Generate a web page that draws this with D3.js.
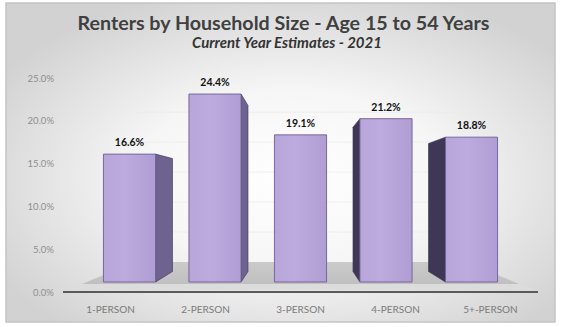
<!DOCTYPE html>
<html><head><meta charset="utf-8">
<script src="https://cdn.jsdelivr.net/npm/d3@7"></script>
<style>html,body{margin:0;padding:0;background:#fff;}svg{display:block;}</style>
</head><body>
<svg id="chart" width="562" height="327"></svg>
<script>
const categories = ["1-PERSON","2-PERSON","3-PERSON","4-PERSON","5+-PERSON"];
const values = [16.6, 24.4, 19.1, 21.2, 18.8];
const yTicks = [0, 5, 10, 15, 20, 25];
const titleText = "Renters by Household Size - Age 15 to 54 Years";
const subtitleText = "Current Year Estimates - 2021";

const svg = d3.select("#chart");
const defs = svg.append("defs");

// background gradient
const bg = defs.append("radialGradient").attr("id","bg").attr("cx","52%").attr("cy","55%").attr("r","62%");
bg.append("stop").attr("offset","0%").attr("stop-color","#ffffff");
bg.append("stop").attr("offset","45%").attr("stop-color","#f6f6f6");
bg.append("stop").attr("offset","100%").attr("stop-color","#d2d2d2");
svg.append("rect").attr("x",6).attr("y",3).attr("width",549).attr("height",319)
  .attr("fill","url(#bg)").attr("stroke","#c4c4c4").attr("stroke-width",1.5);

// scales (front plane)
const x = d3.scaleBand().domain(categories).range([63, 538]).paddingInner(0.39).paddingOuter(0.195);
const y = d3.scaleLinear().domain([0, 25]).range([292, 78]);

// perspective
const vx = 300.5, vy = 192;
const sFront = 0.9, sBack = 0.795, sWall = 0.7, sFloorFront = 0.92;
const P = (px, py, s) => [vx + (px - vx) * s, vy + (py - vy) * s];
const poly = pts => pts.map(p => p.join(",")).join(" ");

// faint back-wall gridlines
const grid = svg.append("g").attr("stroke","#ececec").attr("stroke-width",0.8).attr("fill","none");
yTicks.filter(t => t > 0).forEach(t => {
  const a = P(x.range()[0], y(t), sWall), b = P(x.range()[1], y(t), sWall);
  grid.append("line").attr("x1",a[0]).attr("y1",a[1]).attr("x2",b[0]).attr("y2",b[1]);
});

// floor
const fg = defs.append("linearGradient").attr("id","floor").attr("x1",0).attr("y1",0).attr("x2",0).attr("y2",1);
fg.append("stop").attr("offset","0%").attr("stop-color","#cbcbcb");
fg.append("stop").attr("offset","100%").attr("stop-color","#c0c0c0");
const [x0, x1] = x.range();
svg.append("polygon").attr("fill","url(#floor)")
  .attr("points", poly([P(x0, y(0), sWall), P(x1, y(0), sWall), P(x1, y(0), sFloorFront), P(x0, y(0), sFloorFront)]));
const ff = P(x0, y(0), sFloorFront), ff2 = P(x1, y(0), sFloorFront);
svg.append("polygon").attr("fill","#dcdcdc")
  .attr("points", poly([ff, ff2, [x1, y(0) - 1.5], [x0, y(0) - 1.5]]));
svg.append("line").attr("x1",x0).attr("x2",x1).attr("y1",y(0)).attr("y2",y(0))
  .attr("stroke","#5a5a5a").attr("stroke-width",2);

// bars
const frontG = defs.append("linearGradient").attr("id","front").attr("x1",0).attr("y1",0).attr("x2",1).attr("y2",0);
frontG.append("stop").attr("offset","0%").attr("stop-color","#b8a6da");
frontG.append("stop").attr("offset","40%").attr("stop-color","#bdabdf");
frontG.append("stop").attr("offset","100%").attr("stop-color","#b09dd3");

const bars = svg.append("g");
categories.forEach((c, i) => {
  const v = values[i];
  const l = x(c), r = x(c) + x.bandwidth();
  const cx = l + x.bandwidth() / 2;
  const edge = cx < vx ? r : l;
  if (Math.abs(cx - vx) > 5) {
    const pts = [P(edge, y(v), sFront), P(edge, y(v), sBack), P(edge, y(0), sBack), P(edge, y(0), sFront)];
    bars.append("polygon").attr("points", poly(pts))
      .attr("fill", cx < vx ? "#6e6390" : "#3f3756")
      .attr("stroke", "#3a3350").attr("stroke-width", 0.6);
  }
  const f = [P(l, y(v), sFront), P(r, y(v), sFront), P(r, y(0), sFront), P(l, y(0), sFront)];
  bars.append("polygon").attr("points", poly(f))
    .attr("fill","url(#front)").attr("stroke","#6d5f93").attr("stroke-width",0.9);
  const t = P(cx, y(v), sFront);
  bars.append("text").attr("x", t[0]).attr("y", t[1] - 8)
    .attr("text-anchor","middle").attr("font-family","Lato, 'Open Sans', sans-serif")
    .attr("font-weight","bold").attr("font-size","10.5px").attr("fill","#111")
    .text(v.toFixed(1) + "%");
});

// y axis labels
const yAxis = svg.append("g").attr("transform","translate(58,0)")
  .call(d3.axisLeft(y).tickValues(yTicks).tickSize(0).tickPadding(4).tickFormat(d => d3.format(".1f")(d) + "%"));
yAxis.select(".domain").remove();
yAxis.selectAll("text").attr("font-family","Lato, sans-serif").attr("font-size","9.5px").attr("fill","#8e8e8e");

// x axis labels
const xAxis = svg.append("g").attr("transform","translate(0,306)")
  .call(d3.axisBottom(x).tickSize(0).tickPadding(0));
xAxis.select(".domain").remove();
xAxis.selectAll("text").attr("font-family","Lato, sans-serif").attr("font-size","10px").attr("fill","#7a7a7a").attr("dy","0.71em");

// titles
function fitText(sel, target) {
  const w = sel.node().getComputedTextLength();
  const fs = parseFloat(sel.attr("font-size"));
  sel.attr("font-size", (fs * target / w).toFixed(2) + "px");
}
const title = svg.append("text").attr("x",283.5).attr("y",30).attr("text-anchor","middle")
  .attr("font-family","Lato, sans-serif").attr("font-weight","bold").attr("font-size","18px")
  .attr("fill","#404040").text(titleText);
fitText(title, 412);
const sub = svg.append("text").attr("x",287).attr("y",48).attr("text-anchor","middle")
  .attr("font-family","Lato, sans-serif").attr("font-weight","bold").attr("font-style","italic").attr("font-size","12px")
  .attr("fill","#333").text(subtitleText);
fitText(sub, 190);
</script>
</body></html>
